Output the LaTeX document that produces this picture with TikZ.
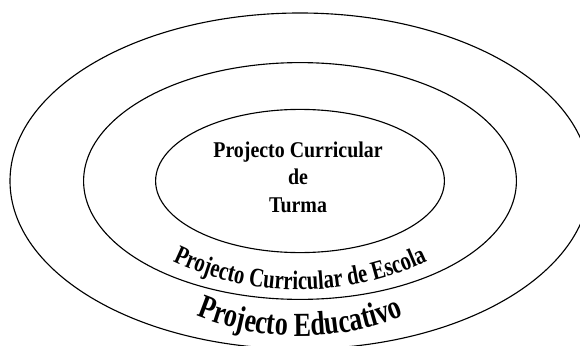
\documentclass[tikz,border=0pt]{standalone}
\usepackage{fontspec}
\setmainfont{Liberation Serif}
\newfontfamily\pcfont[FakeStretch=0.885]{Liberation Serif}
\newfontfamily\arcfont[FakeStretch=0.77]{Liberation Serif}
\usetikzlibrary{positioning,calc,decorations.text}

\begin{document}
\begin{tikzpicture}[
ring/.style={
  draw,
  line width=0.8pt},
arcword/.style={
  decorate,
  decoration={text along path, text align=center}}
]
\useasboundingbox (0,0) rectangle (14.5,8.625);
\clip (0,0) rectangle (14.5,8.625);
\coordinate (O) at (7.5,4.1);
\coordinate (CE) at (7.5,8.8);  % arch of the school text
\coordinate (CP) at (7.5,7.05); % arch of the outer text
\draw[ring] (O) ellipse [x radius=7.25, y radius=4.2];
\draw[ring] (O) ellipse [x radius=5.41, y radius=2.96];
\draw[ring] (O) ellipse [x radius=3.61, y radius=1.79];
\node [font=\pcfont\bfseries\fontsize{16}{19.6}\selectfont, align=center] (PCT)
  at (7.45,4.2) {Projecto Curricular\\de\\Turma};
\path[arcword, decoration={text={|\arcfont\bfseries\fontsize{19}{22}\selectfont|Projecto Curricular de Escola}}]
  ($ (CE)+(235:7.42) $) arc [start angle=235, end angle=305, radius=7.42];
\path[arcword, decoration={text={|\arcfont\bfseries\fontsize{24}{28}\selectfont|Projecto Educativo}}]
  ($ (CP)+(235:6.825) $) arc [start angle=235, end angle=305, radius=6.825];
\end{tikzpicture}
\end{document}
